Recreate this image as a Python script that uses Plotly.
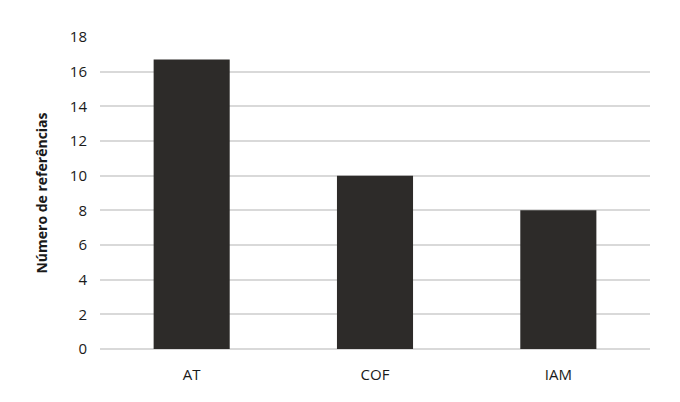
import plotly.graph_objects as go

categorias = ["AT", "COF", "IAM"]
referencias = [16.7, 10, 8]
y_ticks = [0, 2, 4, 6, 8, 10, 12, 14, 16, 18]

fig = go.Figure()
fig.add_trace(go.Bar(
    x=categorias,
    y=referencias,
    marker=dict(color="#2d2b29", line=dict(width=0)),
    width=0.415,
))

# the page body adds an 8px margin, so margins are shifted by that amount
fig.update_layout(
    width=680,
    height=402,
    margin=dict(l=92, r=38, t=29, b=61),
    plot_bgcolor="white",
    paper_bgcolor="white",
    showlegend=False,
    font=dict(family="Open Sans", size=15, color="#1a1a1a"),
)
fig.update_xaxes(
    showgrid=False,
    showline=False,
    ticks="",
    ticklabelstandoff=15,
    tickfont=dict(size=15),
)
fig.update_yaxes(
    range=[0, 18],
    tickvals=y_ticks,
    showgrid=True,
    gridcolor="#d9d9d9",
    gridwidth=1.5,
    zeroline=True,
    zerolinecolor="#d9d9d9",
    zerolinewidth=1.5,
    ticks="",
    ticklabelstandoff=12,
    tickfont=dict(size=15),
    title=dict(text="<b>Número de referências</b>", font=dict(size=14), standoff=18),
)

fig.write_html("out.html")
